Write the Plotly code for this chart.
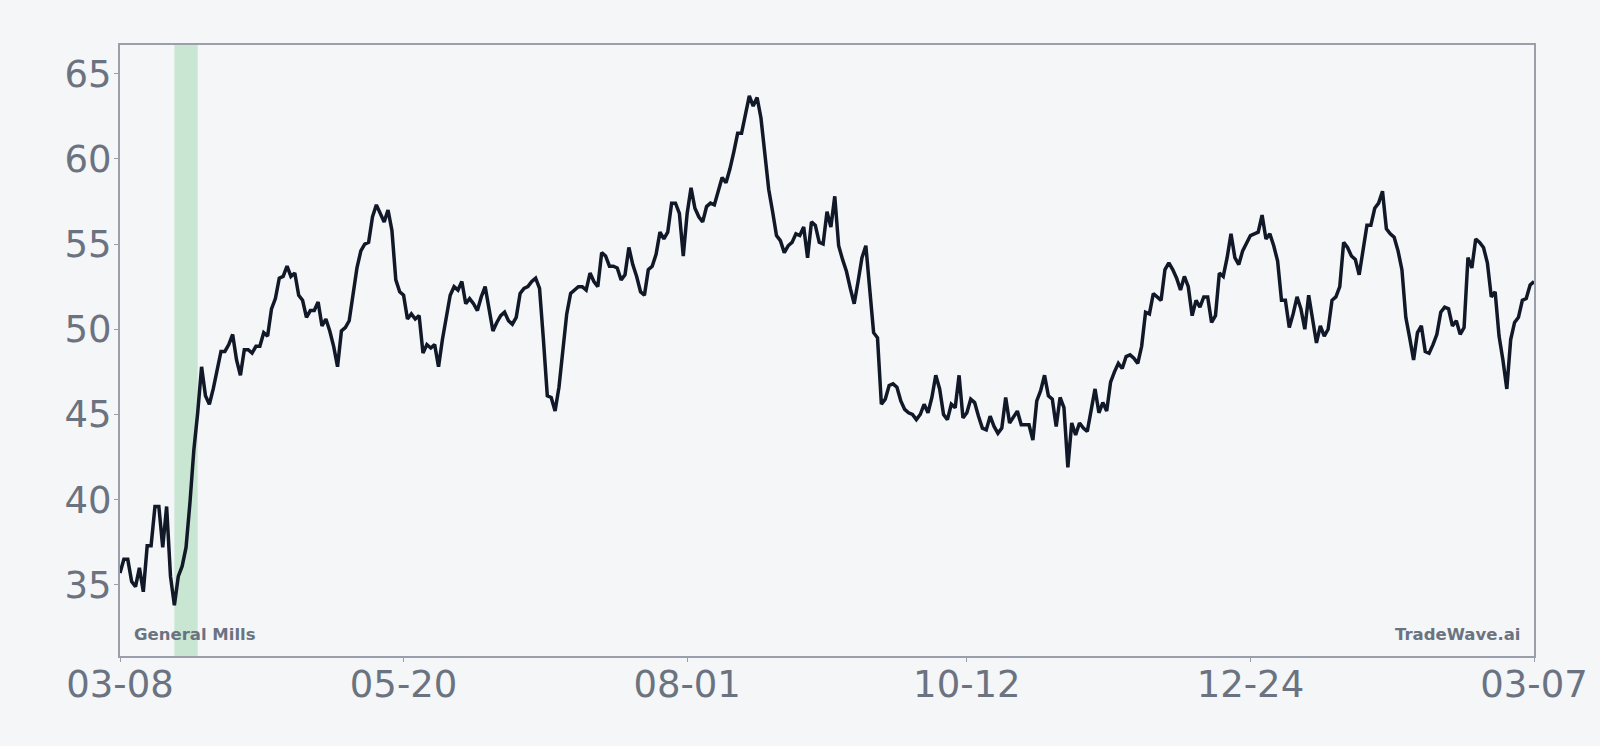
import pandas as pd
import plotly.graph_objects as go

# daily closes, starting 2022-03-08
start_date = "2022-03-08"
close = [
    35.7, 36.5, 36.5, 35.2, 34.9, 36.0, 34.6, 37.3, 37.3, 39.6,
    39.6, 37.2, 39.6, 35.5, 33.8, 35.5, 36.1, 37.2, 39.8, 42.9,
    45.1, 47.8, 46.1, 45.6, 46.5, 47.6, 48.7, 48.7, 49.1, 49.7,
    48.2, 47.3, 48.8, 48.8, 48.6, 49.0, 49.0, 49.8, 49.6, 51.2,
    51.8, 53.0, 53.1, 53.7, 53.1, 53.3, 52.0, 51.7, 50.7, 51.1,
    51.1, 51.6, 50.2, 50.6, 49.9, 49.0, 47.8, 49.9, 50.1, 50.5,
    52.1, 53.6, 54.6, 55.0, 55.1, 56.6, 57.3, 56.8, 56.3, 57.0,
    55.8, 52.9, 52.2, 52.0, 50.6, 50.9, 50.6, 50.8, 48.6, 49.1,
    48.9, 49.1, 47.8, 49.4, 50.8, 52.0, 52.5, 52.3, 52.8, 51.5,
    51.8, 51.5, 51.1, 51.9, 52.5, 51.2, 49.9, 50.4, 50.8, 51.0,
    50.5, 50.3, 50.7, 52.1, 52.4, 52.5, 52.8, 53.0, 52.4, 49.4,
    46.1, 46.0, 45.2, 46.6, 49.0, 50.9, 52.1, 52.3, 52.5, 52.5,
    52.3, 53.3, 52.8, 52.5, 54.5, 54.3, 53.7, 53.7, 53.6, 52.9,
    53.2, 54.8, 53.8, 53.1, 52.2, 52.0, 53.5, 53.7, 54.4, 55.7,
    55.3, 55.7, 57.4, 57.4, 56.8, 54.3, 56.8, 58.3, 57.1, 56.6,
    56.3, 57.2, 57.4, 57.3, 58.2, 58.9, 58.6, 59.4, 60.4, 61.5,
    61.5, 62.7, 63.7, 63.1, 63.6, 62.4, 60.1, 58.2, 56.9, 55.5,
    55.2, 54.5, 54.9, 55.1, 55.6, 55.5, 56.0, 54.2, 56.3, 56.1,
    55.1, 55.0, 56.9, 56.0, 57.8, 54.9, 54.1, 53.4, 52.4, 51.5,
    52.8, 54.2, 54.9, 52.3, 49.8, 49.5, 45.6, 45.9, 46.7, 46.8,
    46.6, 45.8, 45.3, 45.1, 45.0, 44.7, 45.0, 45.6, 45.1, 46.0,
    47.3, 46.5, 45.0, 44.7, 45.6, 45.4, 47.3, 44.8, 45.1, 45.9,
    45.7, 44.9, 44.2, 44.1, 44.9, 44.3, 43.9, 44.2, 46.0, 44.5,
    44.9, 45.2, 44.4, 44.4, 44.4, 43.5, 45.8, 46.4, 47.3, 46.1,
    45.9, 44.3, 46.0, 45.4, 41.9, 44.5, 43.8, 44.5, 44.2, 44.0,
    45.2, 46.5, 45.1, 45.7, 45.2, 46.9, 47.5, 48.0, 47.7, 48.4,
    48.5, 48.3, 48.0, 49.0, 51.0, 50.9, 52.1, 51.9, 51.7, 53.5,
    53.9, 53.5, 53.0, 52.3, 53.1, 52.5, 50.8, 51.7, 51.3, 51.9,
    51.9, 50.4, 50.8, 53.3, 53.1, 54.2, 55.6, 54.2, 53.8, 54.6,
    55.0, 55.5, 55.6, 55.7, 56.7, 55.3, 55.6, 54.9, 54.0, 51.7,
    51.7, 50.1, 50.9, 51.9, 51.2, 50.0, 52.0, 50.6, 49.2, 50.2,
    49.6, 50.0, 51.7, 51.9, 52.5, 55.1, 54.8, 54.3, 54.1, 53.2,
    54.7, 56.1, 56.1, 57.1, 57.4, 58.1, 55.9, 55.6, 55.4, 54.6,
    53.5, 50.7, 49.5, 48.2, 49.8, 50.2, 48.7, 48.6, 49.1, 49.7,
    51.0, 51.3, 51.2, 50.2, 50.5, 49.7, 50.1, 54.2, 53.6, 55.3,
    55.1, 54.8, 53.9, 51.9, 52.2, 49.6, 48.2, 46.5, 49.4, 50.4,
    50.7, 51.7, 51.8, 52.6, 52.8,
]
dates = pd.date_range(start_date, periods=len(close), freq="D")

band_start = "2022-03-22"
band_end = "2022-03-28"

tick_dates = ["2022-03-08", "2022-05-20", "2022-08-01",
              "2022-10-12", "2022-12-24", "2023-03-07"]
y_ticks = [35, 40, 45, 50, 55, 60, 65]

bg = "#f4f6f8"
frame = "#9a9fab"
text_grey = "#6b7280"

fig = go.Figure()
fig.add_trace(go.Scatter(x=dates, y=close, mode="lines",
                         line=dict(color="#111827", width=3.5),
                         hoverinfo="skip", showlegend=False))

fig.add_vrect(x0=band_start, x1=band_end, fillcolor="#c9e6d3",
              opacity=1, line_width=0, layer="below")

fig.add_annotation(text="<b>General Mills</b>", xref="paper", yref="paper",
                   x=0, y=0, xanchor="left", yanchor="bottom",
                   xshift=12, yshift=10, showarrow=False,
                   font=dict(family="DejaVu Sans", size=16.5, color=text_grey))
fig.add_annotation(text="<b>TradeWave.ai</b>", xref="paper", yref="paper",
                   x=1, y=0, xanchor="right", yanchor="bottom",
                   xshift=-12, yshift=10, showarrow=False,
                   font=dict(family="DejaVu Sans", size=16.5, color=text_grey))

axis_common = dict(showline=True, mirror=True, linecolor=frame, linewidth=2,
                   ticks="outside", ticklen=4, tickcolor=frame, tickwidth=1,
                   showgrid=False, zeroline=False,
                   tickfont=dict(family="DejaVu Sans", size=37, color=text_grey))

fig.update_xaxes(range=[tick_dates[0], tick_dates[-1]], tickvals=tick_dates,
                 tickformat="%m-%d", ticklabelstandoff=-9, **axis_common)
fig.update_yaxes(range=[30.83, 66.68], tickvals=y_ticks,
                 ticklabelstandoff=-5, **axis_common)

fig.update_layout(width=1600, height=746, paper_bgcolor=bg, plot_bgcolor=bg,
                  margin=dict(l=120, r=64, t=45, b=90),
                  font=dict(family="DejaVu Sans"))

# drop the browser's default body margin so the figure fills the window
fig.write_html("out.html", config={"displayModeBar": False},
               post_script="document.body.style.margin='0';"
                           "document.body.style.background='#f4f6f8';")
